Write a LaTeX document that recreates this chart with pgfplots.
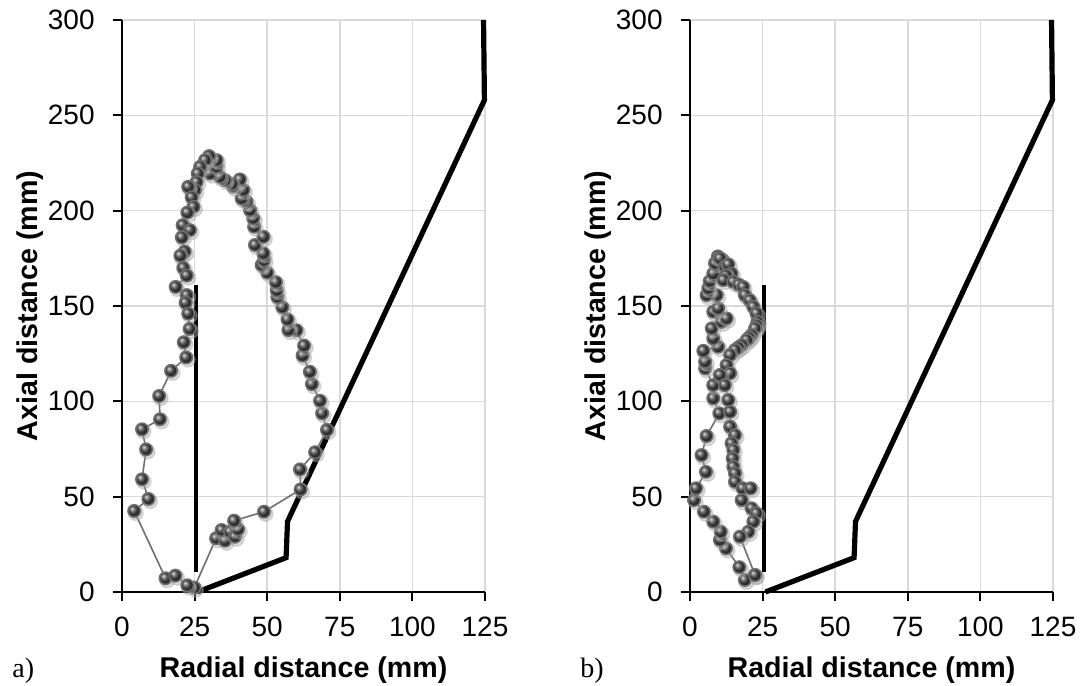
\documentclass[border=0pt]{standalone}
\usepackage{pgfplots}
\pgfplotsset{compat=1.18}
\usepackage{fontspec}
\setmainfont{Liberation Sans}
\newfontfamily\seriffont{Liberation Serif}
\definecolor{gridgray}{RGB}{217,217,217}
\definecolor{trajline}{RGB}{110,110,110}
\newcommand\tickfont{\fontsize{14}{16}\selectfont}
\pgfdeclareplotmark{myball}{%
  \fill[black!35,opacity=0.4] (0.8pt,-1.1pt) circle (\pgfplotmarksize+0.5pt);
  \shade[ball color=black!72] (0,0) circle (\pgfplotmarksize);}

\pgfplotstableread{
x y
24.9 2.3
32.4 28.2
35.5 26.9
34.3 32.5
37.2 31.6
38.9 29.0
40.0 32.9
38.6 37.4
48.9 42.1
61.5 53.8
61.3 64.3
66.5 73.3
70.6 85.0
68.9 93.7
68.2 100.3
65.4 109.0
64.7 115.5
62.2 124.0
62.7 129.2
60.1 137.3
57.3 137.4
57.0 143.0
55.2 149.4
53.5 154.7
53.3 158.2
53.0 162.5
50.0 167.5
48.1 171.5
48.9 174.0
48.7 177.6
45.8 182.0
48.7 186.3
45.5 191.6
45.2 196.0
44.1 200.3
42.9 204.7
41.2 206.4
41.8 210.8
38.3 212.6
40.6 216.4
37.8 214.0
35.5 216.0
33.7 217.8
30.3 219.5
32.6 223.0
32.6 226.5
30.0 228.6
28.6 226.5
26.9 223.0
26.1 219.5
25.7 215.0
25.1 210.8
22.8 212.5
24.0 207.0
24.6 202.0
22.5 199.0
20.9 192.4
23.4 189.8
20.6 186.0
21.6 178.5
20.1 176.4
21.1 170.0
22.3 166.0
18.5 160.0
22.3 155.7
21.9 151.7
22.8 146.0
23.3 138.0
21.3 131.0
22.1 123.0
16.9 116.0
12.8 102.8
13.1 90.6
6.9 85.3
8.3 74.8
6.9 59.1
9.1 48.8
4.2 42.5
15.0 7.2
18.4 8.6
22.5 3.5
}\trajA

\pgfplotstableread{
x y
22.4 8.9
18.9 6.3
17.0 13.0
12.4 22.9
10.3 27.3
10.6 31.6
8.0 36.9
4.8 42.1
1.4 48.2
2.1 54.4
5.5 63.0
4.0 71.8
5.7 81.8
10.1 93.7
8.0 101.6
8.0 108.5
5.2 117.3
5.2 120.8
4.6 126.5
9.7 128.6
8.0 133.0
7.5 138.3
10.9 141.7
12.6 143.5
8.0 147.0
9.7 148.8
9.2 155.7
5.7 155.7
6.3 159.3
6.8 163.0
8.0 167.0
8.6 172.4
9.6 176.0
11.2 174.2
10.3 175.0
12.0 170.6
13.2 171.8
14.3 167.0
12.4 166.0
11.5 163.6
14.9 162.7
16.8 161.2
18.3 160.0
18.9 155.7
20.6 153.0
21.8 149.6
22.9 146.1
23.2 141.7
23.0 139.8
22.4 138.3
21.2 134.8
20.3 133.4
19.5 132.1
17.8 129.5
16.6 128.2
15.5 126.9
13.8 124.3
12.6 119.0
13.8 114.7
10.3 113.8
12.0 108.5
13.2 100.7
13.8 94.5
13.8 86.7
15.5 82.3
14.3 78.0
14.9 74.5
14.7 70.1
14.9 65.7
15.5 62.2
15.5 57.8
18.1 54.4
20.9 54.4
17.8 48.2
21.2 43.9
22.9 41.3
21.8 36.9
20.1 31.6
17.2 29.0
22.4 8.9
}\trajB

\pgfplotstableread{
x y
26 0
56.5 18
57 37
124.8 258
124.5 300
}\vessel

\pgfplotstableread{
x y
25.4 10.5
25.4 161
}\baffle

\pgfplotsset{
 myaxis/.style={
  scale only axis, width=181.5pt, height=286pt,
  anchor=south west,
  xmin=0,xmax=125,ymin=0,ymax=300,
  xtick={0,25,...,125}, ytick={0,50,...,300},
  axis x line*=bottom, axis y line*=left,
  axis line style={line width=1pt, black, -},
  grid=major, major grid style={gridgray, line width=0.8pt},
  tick style={black, line width=1pt},
  major tick length=4.5pt,
  tick align=outside,
  clip=false,
  /pgf/number format/assume math mode=true,
  xticklabel style={font=\tickfont, inner sep=0pt, anchor=north, yshift=-8pt},
  yticklabel style={font=\tickfont, inner sep=0pt, anchor=east, xshift=-9pt},
  label style={font=\fontsize{14.3}{16}\selectfont\bfseries},
  xlabel={Radial distance (mm)},
  ylabel={Axial distance (mm)},
  xlabel style={at={(axis description cs:0.5,-0.150)}, anchor=base},
  ylabel style={at={(axis description cs:-0.253,0.5)}, anchor=center},
 }
}

\begin{document}
\begin{tikzpicture}
\path[use as bounding box] (0,0) rectangle (542pt,343pt);
\begin{axis}[myaxis, at={(61pt,47pt)}]
\addplot[trajline, line width=0.8pt, mark=myball, mark size=3.1pt] table {\trajA};
\addplot[black, line width=2pt] table {\baffle};
\addplot[black, line width=2.6pt] table {\vessel};
\end{axis}
\begin{axis}[myaxis, at={(345pt,47pt)}]
\addplot[trajline, line width=0.8pt, mark=myball, mark size=3.1pt] table {\trajB};
\addplot[black, line width=2pt] table {\baffle};
\addplot[black, line width=2.6pt] table {\vessel};
\end{axis}
\node[anchor=base west, font=\seriffont\fontsize{14}{16}\selectfont, inner sep=0pt] at (6pt,4pt) {a)};
\node[anchor=base west, font=\seriffont\fontsize{14}{16}\selectfont, inner sep=0pt] at (290pt,4pt) {b)};
\end{tikzpicture}
\end{document}
